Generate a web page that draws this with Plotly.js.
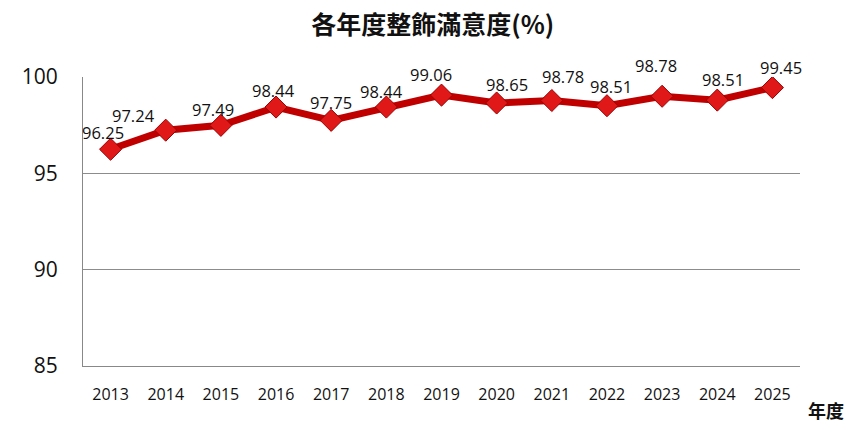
<!DOCTYPE html>
<html>
<head>
<meta charset="utf-8">
<script src="https://cdn.plot.ly/plotly-3.0.1.min.js"></script>
<style>html,body{margin:0;padding:0;background:#fff;}#chart{width:857px;height:428px;}</style>
</head>
<body>
<div id="chart"></div>
<script>
// Data
const years = ['2013','2014','2015','2016','2017','2018','2019','2020','2021','2022','2023','2024','2025'];
// marker heights as drawn
const values = [96.25, 97.24, 97.49, 98.44, 97.75, 98.44, 99.06, 98.65, 98.78, 98.51, 99.00, 98.80, 99.45];
// data label texts as printed on the chart
const labelTexts = ['96.25','97.24','97.49','98.44','97.75','98.44','99.06','98.65','98.78','98.51','98.78','98.51','99.45'];
const yTicks = [85, 90, 95, 100];

// label placement offsets (pixels) - styling only
const labelDx = [-8, -32, -8, -3, 0, -5, -11, 10, 11, 4, -6, 6, 9];
const labelDy = [17, 15, 16, 17, 18, 16, 21, 19, 24, 19, 31, 21, 20];

const trace = {
  x: years,
  y: values,
  type: 'scatter',
  mode: 'lines+markers',
  line: {color: '#C00000', width: 7},
  marker: {symbol: 'diamond', size: 17, color: '#E01818', line: {color: '#9A0000', width: 1}},
  hoverinfo: 'x+y'
};

const annotations = years.map((yr, i) => ({
  x: i, y: values[i], xref: 'x', yref: 'y',
  text: labelTexts[i], showarrow: false,
  xshift: labelDx[i], yshift: labelDy[i],
  font: {family: 'Open Sans, Noto Sans, sans-serif', size: 16.5, color: '#111'}
}));

annotations.push({
  xref: 'paper', yref: 'paper', x: 1.0, y: 0, xanchor: 'left', yanchor: 'top',
  xshift: 6, yshift: -29,
  text: '<b>年度</b>', showarrow: false,
  font: {family: 'Noto Sans CJK TC, sans-serif', size: 18, color: '#111'}
});

const layout = {
  width: 857, height: 428,
  margin: {l: 83, r: 57, t: 77, b: 62},
  paper_bgcolor: '#fff', plot_bgcolor: '#fff',
  showlegend: false,
  title: {
    text: '<b>各年度整飾滿意度(%)</b>',
    x: 0.505, xanchor: 'center', y: 0.94, yanchor: 'middle',
    font: {family: 'Noto Sans CJK TC, sans-serif', size: 25, color: '#111'}
  },
  xaxis: {
    type: 'category',
    range: [-0.5, 12.5],
    showgrid: false,
    showline: true, linecolor: '#888', linewidth: 1,
    ticks: 'outside', ticklen: 14, tickcolor: 'rgba(0,0,0,0)',
    tickfont: {family: 'Open Sans, Noto Sans, sans-serif', size: 16, color: '#111'},
    fixedrange: true, zeroline: false
  },
  yaxis: {
    range: [85, 100],
    tickvals: yTicks,
    ticktext: yTicks.map(String),
    showgrid: true, gridcolor: '#8c8c8c', gridwidth: 1,
    showline: true, linecolor: '#888', linewidth: 1,
    ticks: 'outside', ticklen: 20, tickcolor: 'rgba(0,0,0,0)',
    tickfont: {family: 'Open Sans, Noto Sans, sans-serif', size: 21, color: '#111'},
    zeroline: false, fixedrange: true
  },
  annotations: annotations
};

Plotly.newPlot('chart', [trace], layout, {displayModeBar: false, staticPlot: true});
</script>
</body>
</html>
